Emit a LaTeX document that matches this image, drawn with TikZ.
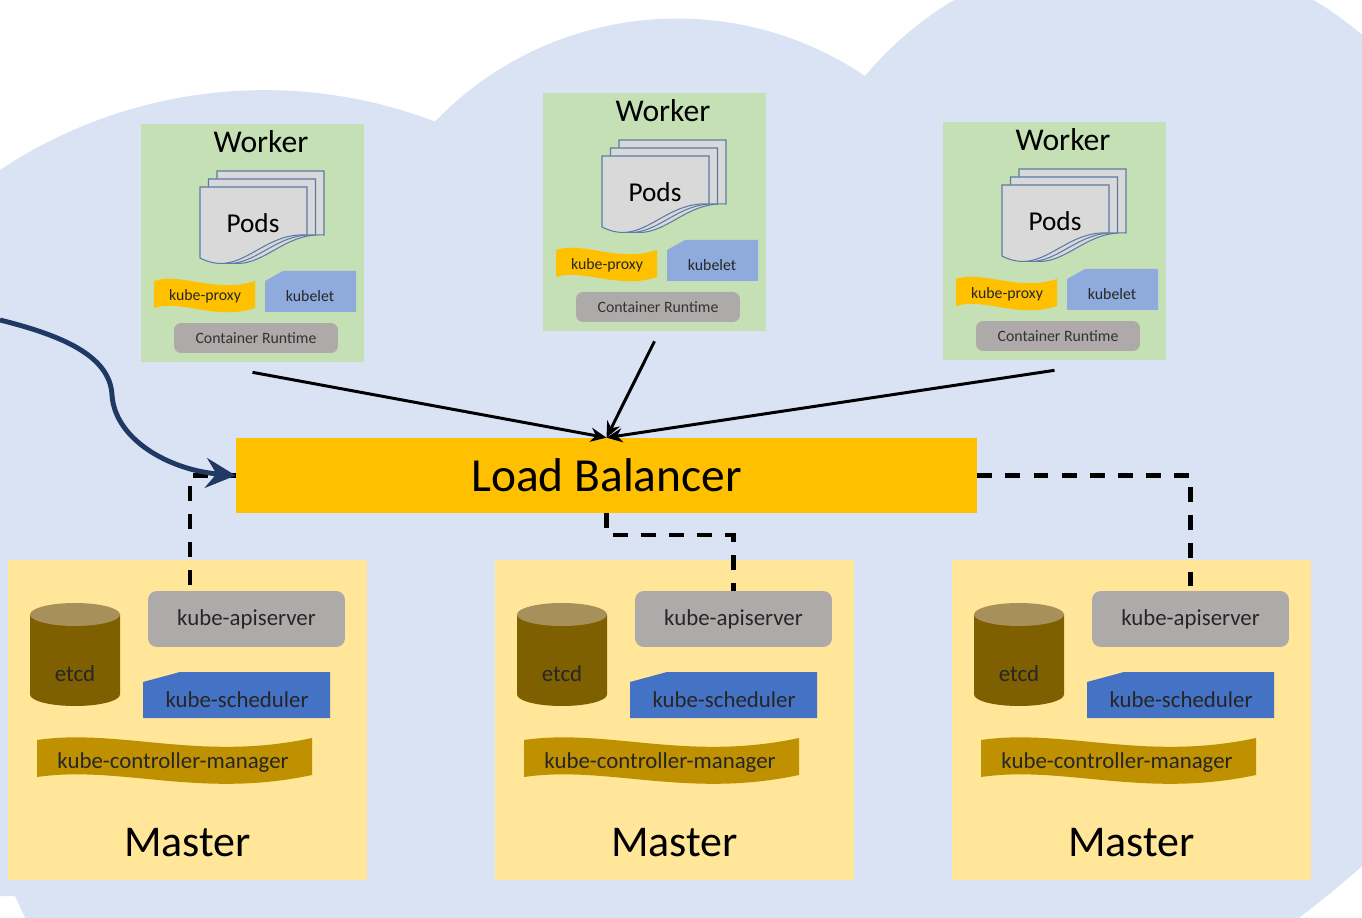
\documentclass[tikz,border=0pt]{standalone}
\usepackage{fontspec}
\setmainfont{Carlito}
\usepackage{tikz}
\usetikzlibrary{arrows.meta}
\definecolor{cloudblue}{HTML}{DAE3F3}
\definecolor{workergreen}{HTML}{C5E0B4}
\definecolor{masteryellow}{HTML}{FFE699}
\definecolor{lbgold}{HTML}{FFC000}
\definecolor{kubeletblue}{HTML}{8FAADC}
\definecolor{schedblue}{HTML}{4472C4}
\definecolor{boxgray}{HTML}{AEAAAA}
\definecolor{podgray}{HTML}{D9D9D9}
\definecolor{podedge}{HTML}{5B7BA6}
\definecolor{ctrlgold}{HTML}{BF9000}
\definecolor{etcdbody}{HTML}{7F6000}
\definecolor{etcdtop}{HTML}{A8905A}
\definecolor{clientblue}{HTML}{203864}
\newcommand{\fsz}[1]{\fontsize{#1}{#1}\selectfont}

\begin{document}
\begin{tikzpicture}[
    x=0.02cm, y=0.02cm,
    workerbox/.style={fill=workergreen,minimum width=4.46cm,minimum height=4.76cm,inner sep=0pt},
    masterbox/.style={fill=masteryellow,minimum width=7.18cm,minimum height=6.4cm,inner sep=0pt},
    lbbox/.style={fill=lbgold,minimum width=14.82cm,minimum height=1.5cm,inner sep=0pt,font=\fsz{27}},
    small/.style={inner sep=0pt,font=\fsz{9},text=black!85},
    mid/.style={inner sep=0pt,font=\fsz{13},text=black!85},
    runtime/.style={fill=boxgray,rounded corners=4pt,minimum width=3.28cm,minimum height=0.6cm,inner sep=0pt,font=\fsz{9},text=black!80},
    apiserver/.style={fill=boxgray,rounded corners=5pt,minimum width=3.94cm,minimum height=1.12cm,inner sep=0pt,font=\fsz{13},text=black!85},
    page/.style={fill=podgray,draw=podedge,line width=0.6pt},
    arrow/.style={-{Stealth[length=9pt,width=8pt]},line width=1.7pt},
    clientarrow/.style={-{Stealth[length=17pt,width=17pt,inset=6pt]},line width=2.8pt,draw=clientblue},
    dashline/.style={line width=2.3pt,dash pattern=on 8.5pt off 7.5pt},
    pics/worker/.style={code={
      \node[workerbox] (box) at (111.5,-119) {};
      \node[inner sep=0pt,font=\fsz{18}] (title) at (120,-18) {Worker};
      \foreach \d/\e in {17/16,8.5/8,0/0}
        \draw[page] (59+\d,-63+\e) -- (166+\d,-63+\e) -- (166+\d,-111) .. controls (120+\d,-108) and (100+\d,-155) .. (59+\d,-134) -- cycle;
      \node[inner sep=0pt,font=\fsz{15.5}] (pods) at (112,-99) {Pods};
      \fill[lbgold] (13,-157) .. controls (40,-148) and (75,-170) .. (114,-157) -- (114,-184) .. controls (75,-197) and (40,-175) .. (13,-184) -- cycle;
      \node[small] (proxy) at (64,-172) {kube-proxy};
      \fill[kubeletblue] (124,-157) -- (142,-147) -- (215,-147) -- (215,-188) -- (124,-188) -- cycle;
      \node[small] (kubelet) at (169,-172) {kubelet};
      \node[runtime] (runtime) at (115,-214) {Container Runtime};
    }},
    pics/master/.style={code={
      \node[masterbox] (box) at (179.5,-160) {};
      \fill[etcdbody] (22,-54.5) -- (22,-134.5) arc[start angle=180,end angle=360,x radius=45,y radius=11.5] -- (112,-54.5) -- cycle;
      \fill[etcdtop] (67,-54.5) ellipse[x radius=45,y radius=11.5];
      \node[mid] (etcd) at (67,-114) {etcd};
      \node[apiserver] (api) at (238.5,-59) {kube-apiserver};
      \fill[schedblue] (135,-122) -- (172,-112) -- (322,-112) -- (322,-158) -- (135,-158) -- cycle;
      \node[mid] (sched) at (229,-140) {kube-scheduler};
      \fill[ctrlgold] (29,-180) .. controls (112,-168) and (192,-202) .. (304,-178) -- (304,-215) .. controls (192,-239) and (112,-205) .. (29,-217) -- cycle;
      \node[mid] (ctrl) at (165,-203) {kube-controller-manager};
      \node[inner sep=0pt,font=\fsz{25}] (label) at (179.5,-283) {Master};
    }}
  ]
    \useasboundingbox (0,-918) rectangle (1362,0);
    \fill[white] (0,-918) rectangle (1362,0);
    \clip (0,-918) rectangle (1362,0);
    % cloud behind everything
    \fill[cloudblue] (-20,-170) -- (0,-170) arc[start angle=123.6,end angle=69.1,radius=478]
      arc[start angle=136.1,end angle=56,radius=336] arc[start angle=140,end angle=20,radius=351]
      -- (1500,-183) -- (1500,-700) .. controls (1450,-800) and (1330,-900) .. (1240,-960)
      -- (45,-960) -- (15,-896) -- (-20,-896) -- cycle;

    \coordinate (client) at (0,-320);
    \pic (w1) at (141,-124) {worker};
    \pic (w2) at (543,-93) {worker};
    \pic (w3) at (943,-122) {worker};
    \node[lbbox] (lb) at (606.5,-475.5) {Load Balancer};
    \pic (m1) at (8,-560) {master};
    \pic (m2) at (495,-560) {master};
    \pic (m3) at (952,-560) {master};

    \draw[dashline] (lb.west) -| ([xshift=-1.13cm]m1api.north);
    \draw[dashline] (lb.south) -- ++(0,-22) -| (m2api.north);
    \draw[dashline] (lb.east) -| (m3api.north);
    \draw[arrow] ([yshift=-0.2cm]w1box.south) -- (lb.north);
    \draw[arrow] ([yshift=-0.2cm]w2box.south) -- (lb.north);
    \draw[arrow] ([yshift=-0.2cm]w3box.south) -- (lb.north);
    \draw[clientarrow] (client) .. controls (60,-335) and (110,-355) .. (112,-395)
      .. controls (115,-440) and (170,-470) .. (lb.west);
  \end{tikzpicture}
\end{document}
